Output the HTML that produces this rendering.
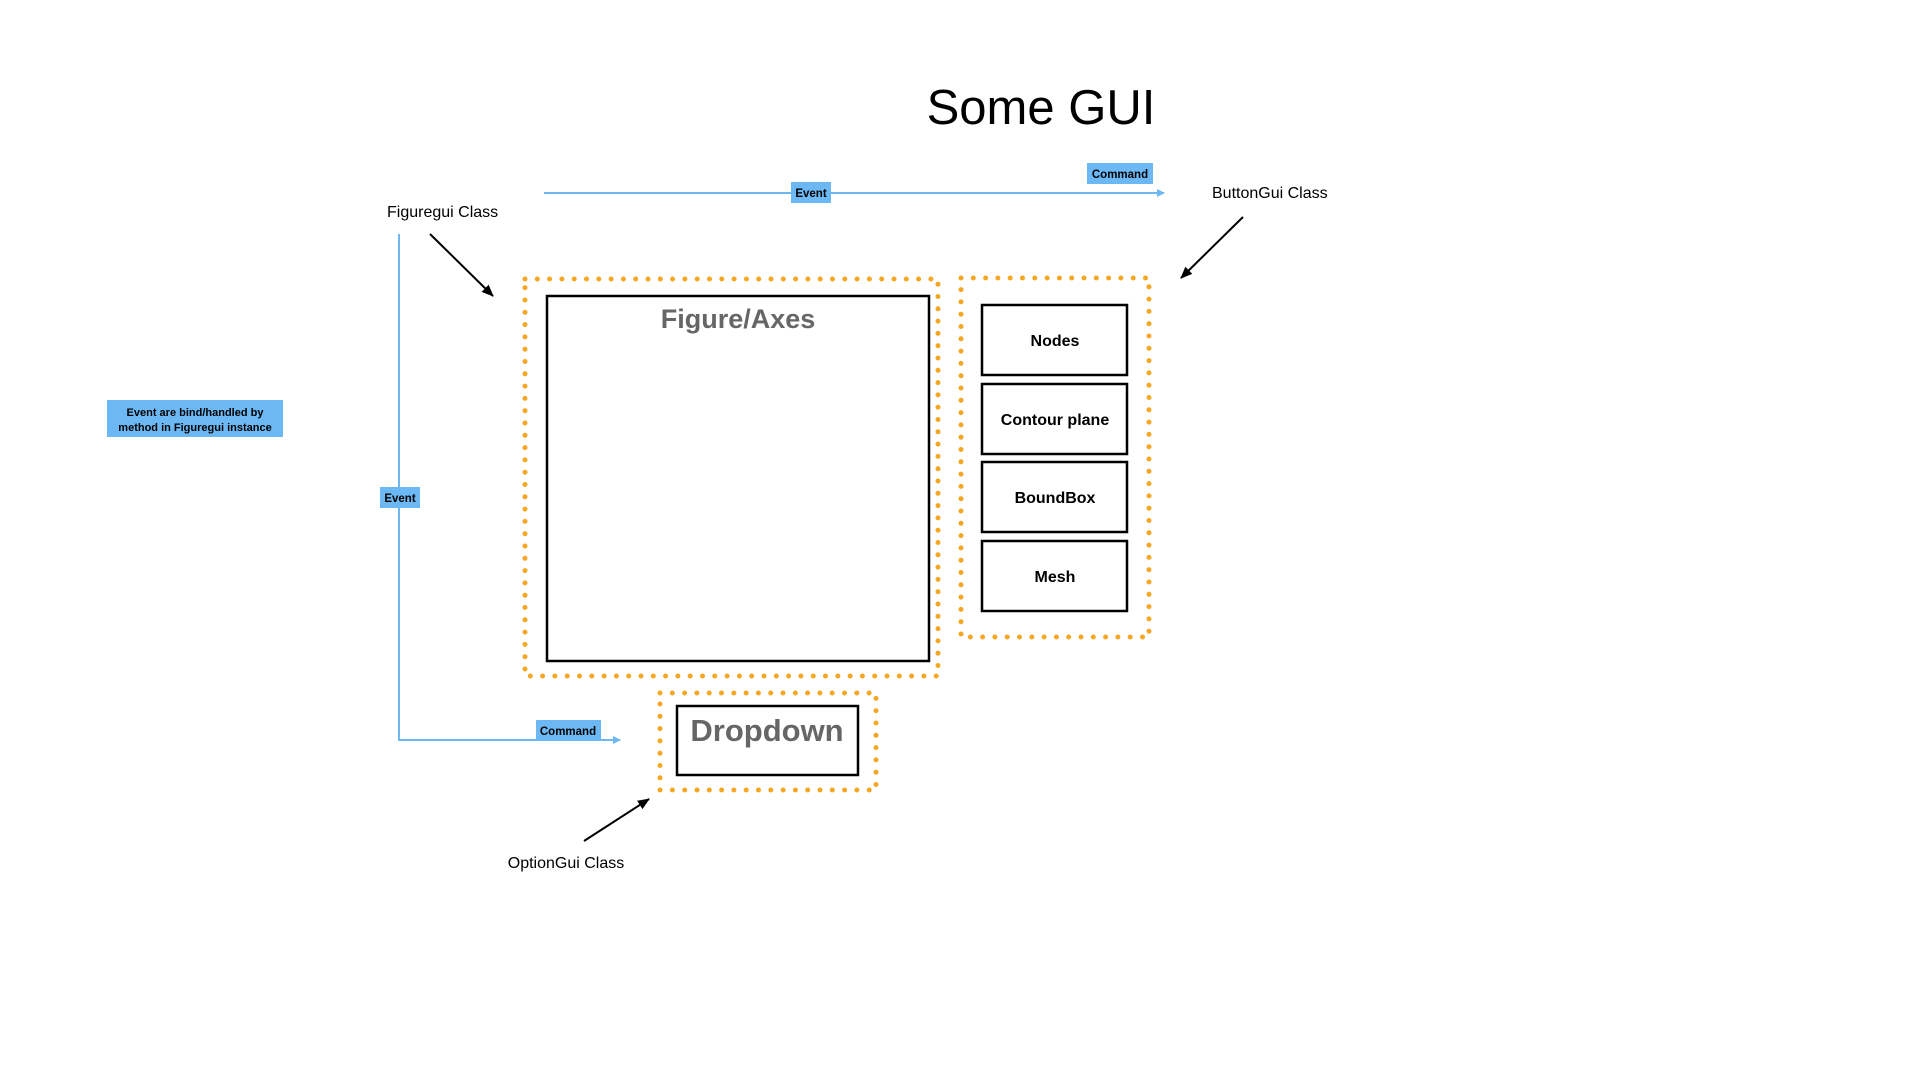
<!DOCTYPE html>
<html><head><meta charset="utf-8"><style>
body{margin:0;background:#fff;}
svg{display:block;}
text{font-family:"Liberation Sans",sans-serif;}
</style></head><body>
<svg width="1920" height="1080" viewBox="0 0 1920 1080">
<defs>
<marker id="ab" markerWidth="8" markerHeight="8" refX="7" refY="4" orient="auto" markerUnits="userSpaceOnUse"><path d="M0,0 L8,4 L0,8 z" fill="#6bb8f5"/></marker>
<marker id="ak" markerWidth="12" markerHeight="12" refX="11" refY="6" orient="auto" markerUnits="userSpaceOnUse"><path d="M0,1 L12,6 L0,11 z" fill="#000"/></marker>
</defs>
<text x="1041" y="124" font-size="49" text-anchor="middle" fill="#000">Some GUI</text>

<line x1="544" y1="193" x2="1164" y2="193" stroke="#6bb8f5" stroke-width="2" marker-end="url(#ab)"/>
<rect x="791" y="182" width="40" height="21" fill="#6bb8f5"/>
<text x="811" y="197" font-size="11.5" font-weight="bold" text-anchor="middle">Event</text>
<rect x="1087" y="163" width="66" height="21" fill="#6bb8f5"/>
<text x="1120" y="178" font-size="11.5" font-weight="bold" text-anchor="middle">Command</text>

<text x="1212" y="198" font-size="16">ButtonGui Class</text>
<text x="387" y="217" font-size="16">Figuregui Class</text>
<line x1="430" y1="234" x2="493" y2="296" stroke="#000" stroke-width="2" marker-end="url(#ak)"/>
<line x1="1243" y1="217" x2="1181" y2="278" stroke="#000" stroke-width="2" marker-end="url(#ak)"/>

<polyline points="399,234 399,740 620,740" fill="none" stroke="#6bb8f5" stroke-width="2" marker-end="url(#ab)"/>
<rect x="380" y="487" width="40" height="21" fill="#6bb8f5"/>
<text x="400" y="502" font-size="11.5" font-weight="bold" text-anchor="middle">Event</text>
<rect x="536" y="720" width="65" height="20" fill="#6bb8f5"/>
<text x="568" y="735" font-size="11.5" font-weight="bold" text-anchor="middle">Command</text>

<rect x="107" y="400" width="176" height="37" fill="#6bb8f5"/>
<text x="195" y="416" font-size="11" font-weight="bold" text-anchor="middle">Event are bind/handled by</text>
<text x="195" y="431" font-size="11" font-weight="bold" text-anchor="middle">method in Figuregui instance</text>

<g fill="none" stroke="#f5a623" stroke-width="5" stroke-linecap="round" stroke-dasharray="0 12.3">
<rect x="525" y="279" width="413" height="397"/>
<rect x="961" y="278" width="188" height="359"/>
<rect x="660" y="693" width="216" height="97"/>
</g>

<rect x="547" y="296" width="382" height="365" fill="none" stroke="#000" stroke-width="2.5"/>
<text x="738" y="328" font-size="27" font-weight="bold" fill="#666" text-anchor="middle">Figure/Axes</text>

<g fill="none" stroke="#000" stroke-width="2.5">
<rect x="982" y="305" width="145" height="70"/>
<rect x="982" y="384" width="145" height="70"/>
<rect x="982" y="462" width="145" height="70"/>
<rect x="982" y="541" width="145" height="70"/>
<rect x="677" y="706" width="181" height="69"/>
</g>
<g font-size="16" font-weight="bold" text-anchor="middle">
<text x="1055" y="346">Nodes</text>
<text x="1055" y="425">Contour plane</text>
<text x="1055" y="503">BoundBox</text>
<text x="1055" y="582">Mesh</text>
</g>
<text x="767" y="741" font-size="31" font-weight="bold" fill="#666" text-anchor="middle">Dropdown</text>

<line x1="584" y1="841" x2="649" y2="799" stroke="#000" stroke-width="2" marker-end="url(#ak)"/>
<text x="566" y="868" font-size="16" text-anchor="middle">OptionGui Class</text>
</svg>
</body></html>
